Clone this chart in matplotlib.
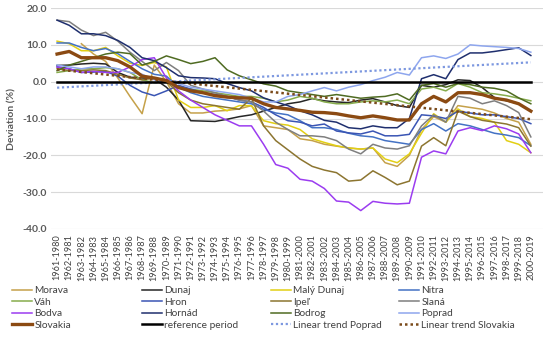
import numpy as np
import matplotlib
matplotlib.use("Agg")
import matplotlib.pyplot as plt
from matplotlib.lines import Line2D

plt.rcParams['font.family'] = ['Lato', 'DejaVu Sans']

nan = np.nan
start_years = list(range(1961, 2001))
periods = [f"{y}-{y + 19}" for y in start_years]

morava = [nan, nan, 10.3, 7.5, 5.5, 1.0, -4.0, -8.7, 4.5, 0.0,
          -6.0, -8.5, -8.5, -8.0, -7.8, -7.4, -6.5, -12.0, -12.5, -13.0,
          -15.5, -16.0, -17.0, -17.5, -18.0, -18.3, -18.0, -22.0, -23.0, -20.0,
          -13.0, -9.5, -11.0, -6.5, -7.0, -7.5, -8.5, -10.0, -11.0, -17.0]
dunaj = [4.4, 4.5, 4.8, 5.0, 4.8, 2.5, 1.2, 1.0, 0.8, -1.5,
         -5.0, -10.6, -10.7, -10.8, -10.2, -9.5, -9.0, -8.0, -7.0, -6.0,
         -5.5, -4.6, -5.2, -5.5, -5.7, -5.0, -4.6, -5.5, -6.5, -7.0,
         -1.0, -1.5, -0.8, 0.5, 0.3, -1.6, -4.3, -5.2, -6.0, -8.0]
maly_dunaj = [11.0, 10.3, 8.4, 8.4, 9.3, 7.0, 5.0, 4.4, 5.2, 4.0,
              -5.0, -7.0, -7.0, -6.5, -7.9, -6.5, -6.5, -10.6, -11.4, -11.8,
              -13.0, -15.5, -16.5, -17.4, -18.0, -18.3, -18.0, -21.0, -22.0, -19.6,
              -14.0, -8.7, -11.0, -7.4, -9.5, -10.0, -11.0, -16.0, -17.0, -19.3]
nitra = [10.5, 10.5, 9.3, 8.4, 9.0, 7.6, 5.5, 3.5, 2.0, 1.5,
         -1.5, -3.0, -4.0, -4.5, -5.0, -5.5, -6.0, -7.5, -8.5, -9.0,
         -10.6, -12.5, -12.5, -13.0, -14.0, -14.7, -15.0, -16.0, -16.5, -17.0,
         -13.0, -11.4, -13.4, -11.4, -12.0, -13.0, -14.0, -14.5, -15.2, -17.4]
vah = [2.5, 3.0, 3.5, 3.5, 3.8, 3.5, 2.5, 0.5, -0.3, 0.0,
       -1.5, -2.0, -2.5, -3.0, -3.5, -4.0, -4.0, -4.5, -5.5, -5.0,
       -4.0, -4.5, -5.5, -6.0, -6.0, -5.5, -5.2, -5.5, -5.0, -6.0,
       -2.0, -1.5, -2.5, -0.5, -1.5, -3.0, -3.3, -3.8, -4.5, -5.2]
hron = [4.0, 3.5, 2.5, 2.6, 2.8, 1.5, -1.0, -2.8, -3.8, -2.5,
        -1.0, -2.0, -3.0, -3.5, -4.0, -5.0, -5.5, -7.0, -9.0, -10.6,
        -11.0, -12.0, -11.5, -13.4, -13.9, -14.2, -13.4, -14.7, -14.7, -14.3,
        -9.0, -9.3, -10.0, -8.0, -8.5, -9.0, -9.0, -9.5, -10.0, -11.4]
ipel = [3.5, 3.0, 3.0, 3.2, 3.0, 2.0, 1.0, 0.5, 1.0, 0.0,
        -3.0, -5.0, -6.0, -6.5, -7.0, -7.5, -4.5, -12.0, -16.0, -18.5,
        -21.0, -23.0, -24.0, -24.7, -27.0, -26.7, -24.2, -26.0, -28.0, -27.0,
        -17.5, -15.2, -17.4, -8.0, -9.5, -10.5, -11.0, -11.5, -12.5, -17.5]
slana = [16.7, 16.3, 14.0, 12.5, 13.4, 11.0, 8.0, 5.5, 3.0, 5.2,
         3.0, -1.0, -2.0, -3.0, -4.0, -5.0, -5.5, -8.0, -11.0, -13.0,
         -14.7, -14.7, -15.0, -16.0, -18.3, -19.6, -17.0, -18.0, -18.3, -17.4,
         -12.0, -9.0, -11.0, -4.0, -4.5, -6.0, -5.2, -6.5, -8.4, -15.0]
bodva = [4.0, 3.5, 2.5, 2.8, 2.5, 2.5, 4.0, 6.0, 6.5, 1.0,
         -2.5, -5.0, -7.0, -9.0, -10.5, -12.0, -12.0, -17.0, -22.5, -23.5,
         -26.5, -27.0, -29.0, -32.4, -32.7, -35.0, -32.5, -33.0, -33.2, -33.0,
         -20.5, -18.8, -19.6, -13.4, -12.5, -13.3, -12.0, -12.8, -14.2, -19.3]
hornad = [16.7, 15.3, 13.0, 13.0, 12.5, 11.2, 9.3, 6.5, 5.7, 3.8,
          1.6, 1.1, 1.0, 0.8, -0.5, -1.6, -2.5, -4.4, -5.5, -6.5,
          -7.9, -9.0, -10.5, -11.0, -12.5, -12.8, -12.0, -12.5, -12.5, -10.0,
          0.8, 1.9, 0.8, 6.0, 7.8, 7.8, 8.2, 8.7, 9.2, 7.1]
bodrog = [3.0, 4.5, 5.5, 6.5, 7.5, 8.0, 7.6, 4.5, 5.5, 7.0,
          6.0, 4.9, 5.5, 6.5, 3.2, 1.6, 0.5, -0.6, -1.2, -2.5,
          -3.0, -3.5, -4.0, -3.5, -4.0, -4.5, -4.2, -4.0, -3.3, -5.0,
          -1.0, -0.5, -1.5, -0.5, -0.8, -1.5, -1.8, -2.5, -4.4, -6.0]
poprad = [4.5, 4.0, 3.5, 4.0, 4.0, 3.5, 2.5, 2.0, 0.5, 0.0,
          -0.5, -1.5, -2.0, -2.5, -3.0, -3.5, -4.5, -5.5, -5.5, -4.0,
          -3.5, -2.5, -1.6, -2.5, -1.5, -0.8, 0.3, 1.2, 2.5, 1.8,
          6.5, 7.0, 6.3, 7.5, 10.0, 9.7, 9.5, 9.3, 9.0, 8.0]
slovakia = [7.5, 8.2, 6.5, 6.5, 6.5, 5.7, 4.0, 1.5, 1.0, 0.3,
            -1.6, -2.5, -3.0, -3.8, -4.2, -4.4, -4.5, -6.0, -7.0, -7.4,
            -7.8, -8.3, -8.4, -8.7, -9.3, -9.8, -9.3, -9.8, -10.4, -10.4,
            -6.0, -4.0, -5.5, -3.0, -3.0, -3.5, -4.5, -5.0, -6.0, -8.0]
reference = [0.0] * 40

rivers = [
    ("Morava", morava, "#C5A14A"),
    ("Dunaj", dunaj, "#262626"),
    ("Malý Dunaj", maly_dunaj, "#E2CF14"),
    ("Nitra", nitra, "#4472C4"),
    ("Váh", vah, "#86AC4C"),
    ("Hron", hron, "#3A55B4"),
    ("Ipeľ", ipel, "#8C7530"),
    ("Slaná", slana, "#7F7F7F"),
    ("Bodva", bodva, "#9B3CF0"),
    ("Hornád", hornad, "#1F2F6E"),
    ("Bodrog", bodrog, "#4F6B22"),
    ("Poprad", poprad, "#8EA6EE"),
]

x = np.arange(len(periods))

fig = plt.figure(figsize=(5.5, 3.38), dpi=100)
ax = fig.add_axes([51 / 550, 1 - 229 / 338, 492 / 550, 221 / 338])

handles = []
for name, vals, col in rivers:
    h, = ax.plot(x, vals, color=col, lw=1.1, zorder=2)
    handles.append((h, name))

# linear trends (least squares, like the Excel trendline)
pp = np.polyfit(x, poprad, 1)
ps = np.polyfit(x, slovakia, 1)
h_tp, = ax.plot(x, np.polyval(pp, x), color="#7D98E0", lw=1.6, ls=(0, (1, 1.2)), zorder=3)
h_ts, = ax.plot(x, np.polyval(ps, x), color="#7A4A1A", lw=1.8, ls=(0, (1, 1.2)), zorder=3)

h_ref, = ax.plot(x, reference, color="black", lw=1.8, zorder=4)
h_svk, = ax.plot(x, slovakia, color="#8B4A12", lw=2.4, zorder=5)

handles.append((h_svk, "Slovakia"))
handles.append((h_ref, "reference period"))
handles.append((h_tp, "Linear trend Poprad"))
handles.append((h_ts, "Linear trend Slovakia"))

ax.set_xlim(-0.5, 40.0)
ax.set_ylim(-40, 20)
ax.set_yticks(np.arange(-40, 21, 10))
ax.set_yticklabels([f"{v:.1f}" for v in np.arange(-40, 21, 10)],
                   fontsize=7.5, fontweight="bold", color="#595959")
ax.set_xticks(x)
ax.set_xticklabels(periods, rotation=90, fontsize=6.6, color="#404040")
ax.tick_params(length=0, pad=3)
ax.tick_params(axis="x", pad=4)
ax.set_ylabel("Deviation (%)", fontsize=7.5, fontweight="bold", color="#595959", labelpad=4)
ax.grid(axis="y", color="#d9d9d9", lw=0.8)
ax.set_axisbelow(True)
for s in ax.spines.values():
    s.set_visible(False)

# legend: 4 fixed columns, rows read left to right
col_x = [12, 142, 271, 399]
for j in range(4):
    items = [handles[i * 4 + j] for i in range(4)]
    fig.legend([h for h, _ in items], [n for _, n in items],
               loc="upper left", bbox_to_anchor=(col_x[j] / 550, 1 - 286 / 338),
               frameon=False, fontsize=7.3, handlelength=2.0, handletextpad=0.2,
               labelspacing=0.25, borderpad=0, borderaxespad=0, labelcolor="#404040")

fig.savefig("out.png", dpi=100)
